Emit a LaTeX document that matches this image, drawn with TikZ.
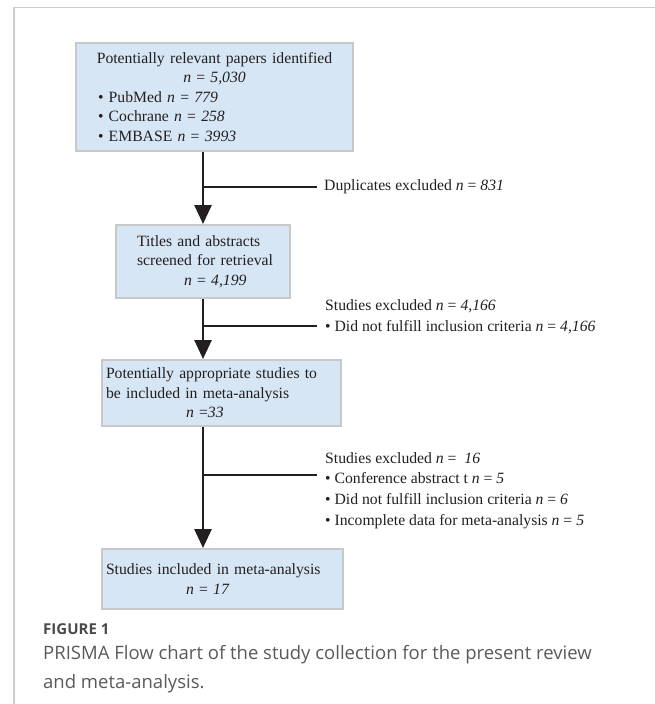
\documentclass[tikz,border=0pt]{standalone}
\usepackage{fontspec}
\setmainfont{Liberation Serif}
\newfontfamily\capfont{Open Sans}
\usetikzlibrary{arrows.meta}
\definecolor{boxfill}{HTML}{D6E6F5}
\definecolor{boxline}{HTML}{C8C8C8}
\definecolor{ink}{HTML}{231F20}
\definecolor{framec}{HTML}{CCCCCC}
\definecolor{capc}{HTML}{5A5A5A}
\definecolor{capbold}{HTML}{4A4A4A}
\newcommand{\nn}{\textit{n}}
\begin{document}
\begin{tikzpicture}[x=1pt,y=-1pt,
  box/.style={draw=boxline, line width=2pt, fill=boxfill, text=ink,
    align=left, inner ysep=0pt, anchor=north west,
    font=\fontsize{15.7}{19.5}\selectfont},
  flow/.style={draw=ink, line width=2.6pt, -{Triangle[length=19pt,width=17pt]}},
  branch/.style={draw=ink, line width=2pt},
  note/.style={text=ink, align=left, inner sep=0pt, anchor=west,
    font=\fontsize{15.7}{20.7}\selectfont},
  frame/.style={draw=framec, line width=1.5pt}]
\useasboundingbox (0,0) rectangle (655,704);
% frame
\coordinate (fa) at (655,7.5);
\coordinate (fb) at (14,7.5);
\coordinate (fc) at (14,704);
\draw[frame] (fa) -- (fb) -- (fc);
% boxes
\node[box, minimum width=277pt, minimum height=108pt, inner xsep=22pt, text width=233pt] (b1) at (75,42)
 {\makebox[233pt]{Potentially relevant papers identified}\\
  \makebox[233pt]{\nn\ = \textit{5,030}}\\
  • PubMed \nn\ = \textit{779}\\
  • Cochrane \nn\ = \textit{258}\\
  • EMBASE \nn\ = \textit{3993}};
\node[box, minimum width=174pt, minimum height=73pt, inner xsep=4pt, text width=166pt] (b2) at (115,224)
 {\hspace*{17pt}Titles and abstracts\\
  \hspace*{17pt}screened for retrieval\\
  \hspace*{64pt}\nn\ = \textit{4,199}};
\node[box, minimum width=239pt, minimum height=66pt, inner xsep=4pt, text width=231pt] (b3) at (101,359)
 {Potentially appropriate studies to\\
  be included in meta-analysis\\
  \hspace*{80pt}\nn\ =\textit{33}};
\node[box, minimum width=241pt, minimum height=60pt, inner xsep=4pt, text width=233pt] (b4) at (101,548)
 {Studies included in meta-analysis\\
  \hspace*{80pt}\nn\ = \textit{17}};
% column of arrows
\coordinate (ax) at (203,0);
\draw[flow] (b1.south -| ax) -- (b2.north -| ax);
\draw[flow] (b2.south -| ax) -- (b3.north -| ax);
\draw[flow] (b3.south -| ax) -- (b4.north -| ax);
% branches
\coordinate (j1) at (203,187);
\coordinate (e1) at (317,187);
\coordinate (j2) at (203,326);
\coordinate (e2) at (317,326);
\coordinate (j3) at (203,475);
\coordinate (e3) at (317,475);
\draw[branch] (j1) -- (e1);
\draw[branch] (j2) -- (e2);
\draw[branch] (j3) -- (e3);
\node[note] (t1) at (324,187) {Duplicates excluded \nn\ = \textit{831}};
\node[note] (t2) at (325,317) {Studies excluded \nn\ = \textit{4,166}\\
  • Did not fulfill inclusion criteria \nn\ = \textit{4,166}};
\node[note] (t3) at (325,490.5) {Studies excluded \nn\ = \ \textit{16}\\
  • Conference abstract t \nn\ = \textit{5}\\
  • Did not fulfill inclusion criteria \nn\ = \textit{6}\\
  • Incomplete data for meta-analysis \nn\ = \textit{5}};
% caption
\node[anchor=west, inner sep=0pt, text=capbold, font=\capfont\bfseries\fontsize{15}{17}\selectfont] (fig) at (43,629) {FIGURE 1};
\node[anchor=north west, inner sep=0pt, text=capc, align=left, font=\capfont\fontsize{18.5}{29.5}\selectfont] (cap) at (43,645)
 {PRISMA Flow chart of the study collection for the present review\\
  and meta-analysis.};
\end{tikzpicture}
\end{document}
